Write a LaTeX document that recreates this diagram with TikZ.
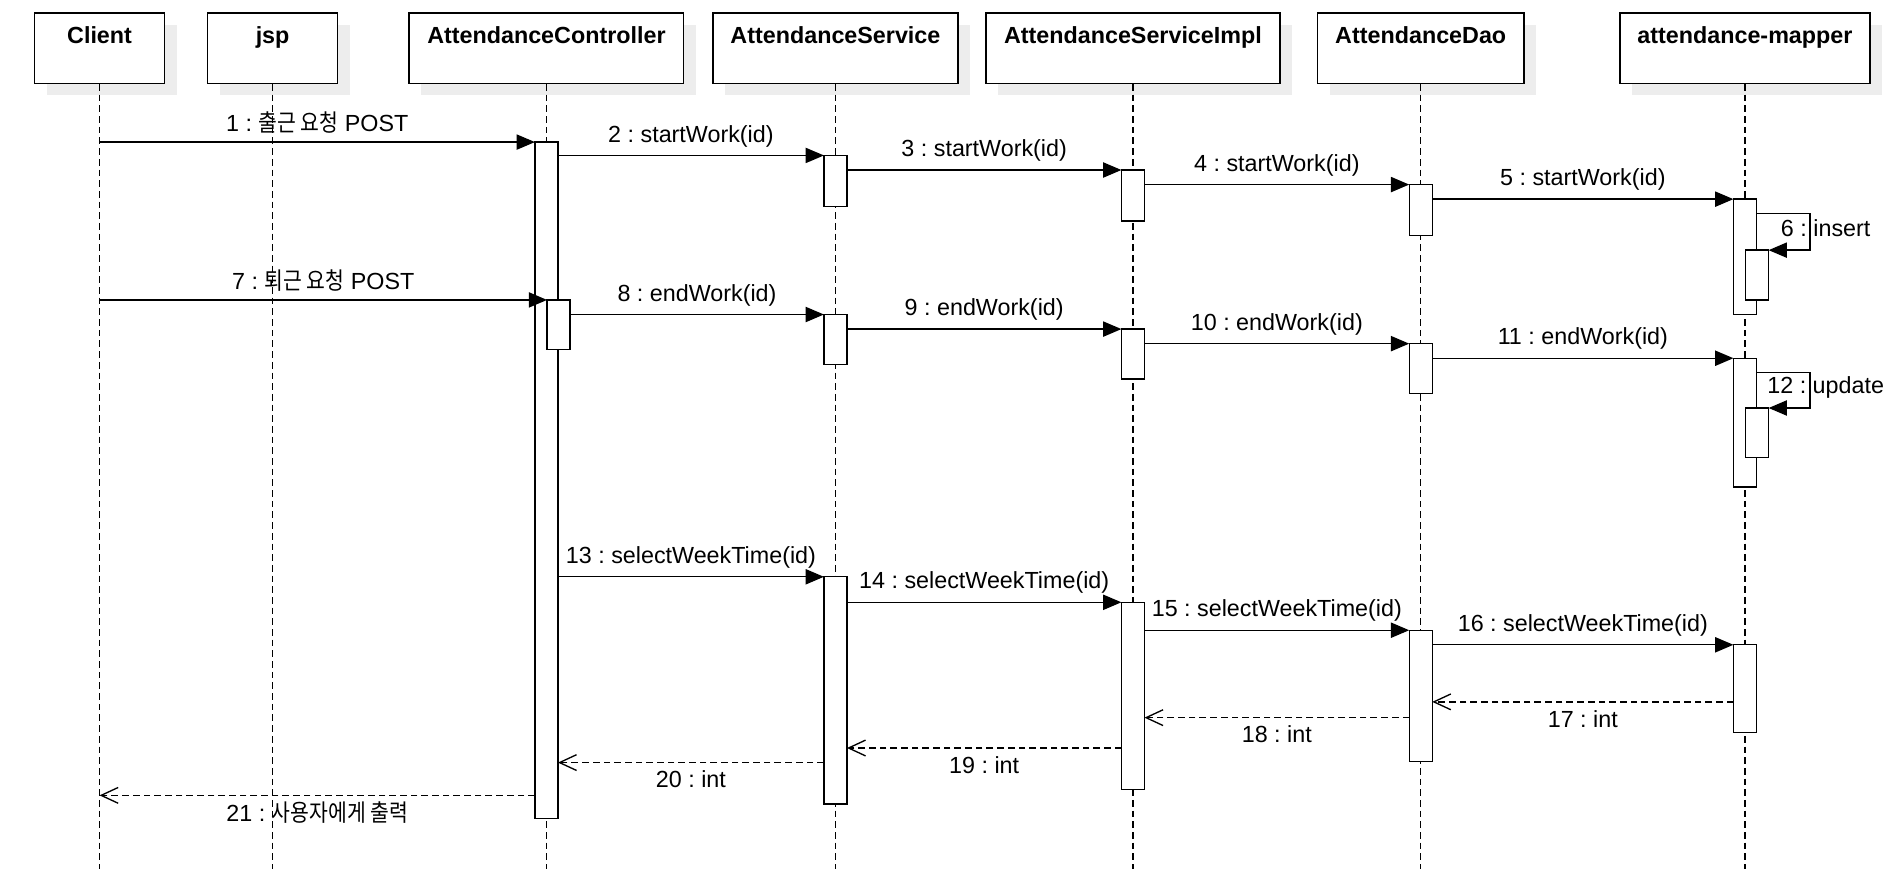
\documentclass[tikz,border=0pt]{standalone}
\usepackage{fontspec}
\setmainfont{Liberation Sans}
\newfontfamily\kr{Noto Sans CJK KR}[Scale=1.02, FakeStretch=0.86]
\usetikzlibrary{arrows.meta,shadows}
\frenchspacing

\begin{document}
\begin{tikzpicture}[x=1pt,y=-1pt,
  every node/.style={font=\fontsize{19.2}{23}\selectfont\frenchspacing},
  hdr/.style={draw, line width=1.2pt, fill=white, minimum height=58pt,
    inner sep=0pt, anchor=north, text height=24.9pt, text depth=33.1pt,
    font=\fontsize{19.2}{23}\selectfont\bfseries,
    drop shadow={shadow xshift=10pt, shadow yshift=-10pt, fill=black!7, opacity=1}},
  bar/.style={draw, line width=1.1pt, fill=white, minimum width=19pt,
    inner sep=0pt, outer sep=0pt, anchor=north},
  life/.style={line width=1.1pt, dash pattern=on 5.5pt off 3.3pt},
  call/.style={line width=1.1pt, -{Triangle[length=15pt, width=12.5pt]}},
  ret/.style={line width=1.1pt, dash pattern=on 5.5pt off 3.3pt,
    -{Straight Barb[length=14pt, width=13pt, line width=1.1pt]}},
  up/.style={midway, yshift=16pt, inner sep=0pt},
  down/.style={midway, yshift=-14pt, inner sep=0pt}
]
\useasboundingbox (0,0) rectangle (1568,718);
\fill[white] (0,0) rectangle (1568,718);

% participants
\node[hdr, minimum width=107pt] (c)   at (82,10)    {Client};
\node[hdr, minimum width=107pt] (j)   at (224.5,10) {jsp};
\node[hdr, minimum width=226pt] (ac)  at (450,10)   {AttendanceController};
\node[hdr, minimum width=202pt] (as)  at (688,10)   {AttendanceService};
\node[hdr, minimum width=242pt] (asi) at (933,10)   {AttendanceServiceImpl};
\node[hdr, minimum width=170pt] (ad)  at (1170,10)  {AttendanceDao};
\node[hdr, minimum width=206pt] (am)  at (1437,10)  {attendance-mapper};

% lifelines
\coordinate (bottom) at (0,716);
\foreach \p in {c,j,ac,as,asi,ad,am}
  \draw[life] (\p.south) -- (\p.south |- bottom);

% activation bars
\node[bar, minimum height=557pt] (a1) at (450,117) {};
\node[bar, minimum height=41pt]  (a2) at (460,247) {};
\node[bar, minimum height=42pt]  (s1) at (688,128) {};
\node[bar, minimum height=41pt]  (s2) at (688,259) {};
\node[bar, minimum height=187pt] (s3) at (688,475) {};
\node[bar, minimum height=42pt]  (i1) at (933,140) {};
\node[bar, minimum height=41pt]  (i2) at (933,271) {};
\node[bar, minimum height=154pt] (i3) at (933,496) {};
\node[bar, minimum height=42pt]  (d1) at (1170,152) {};
\node[bar, minimum height=41pt]  (d2) at (1170,283) {};
\node[bar, minimum height=108pt] (d3) at (1170,519) {};
\node[bar, minimum height=95pt]  (m1) at (1437,164) {};
\node[bar, minimum height=41pt]  (m2) at (1447,206) {};
\node[bar, minimum height=106pt] (m3) at (1437,295) {};
\node[bar, minimum height=41pt]  (m4) at (1447,336) {};
\node[bar, minimum height=72pt]  (m5) at (1437,531) {};

% rows of the return messages
\coordinate (r17) at (0,578);
\coordinate (r18) at (0,591);
\coordinate (r19) at (0,616);
\coordinate (r20) at (0,628);
\coordinate (r21) at (0,655);

% clock-in
\draw[call] (a1.north west -| c) -- (a1.north west)
  node[up] {1 : {\kr 출근 요청} POST};
\draw[call] (s1.north west -| a1.east) -- (s1.north west)
  node[up] {2 : startWork(id)};
\draw[call] (i1.north west -| s1.east) -- (i1.north west)
  node[up] {3 : startWork(id)};
\draw[call] (d1.north west -| i1.east) -- (d1.north west)
  node[up] {4 : startWork(id)};
\draw[call] (m1.north west -| d1.east) -- (m1.north west)
  node[up] {5 : startWork(id)};
\draw[call] ([yshift=-12pt]m1.north east) -- ++(44,0) |- (m2.north east)
  node[pos=0.25, xshift=13pt, yshift=3pt, inner sep=0pt] {6 : insert};

% clock-out
\draw[call] (a2.north west -| c) -- (a2.north west)
  node[up] {7 : {\kr 퇴근 요청} POST};
\draw[call] (s2.north west -| a2.east) -- (s2.north west)
  node[up] {8 : endWork(id)};
\draw[call] (i2.north west -| s2.east) -- (i2.north west)
  node[up] {9 : endWork(id)};
\draw[call] (d2.north west -| i2.east) -- (d2.north west)
  node[up] {10 : endWork(id)};
\draw[call] (m3.north west -| d2.east) -- (m3.north west)
  node[up] {11 : endWork(id)};
\draw[call] ([yshift=-12pt]m3.north east) -- ++(44,0) |- (m4.north east)
  node[pos=0.25, xshift=13pt, yshift=2.5pt, inner sep=0pt] {12 : update};

% weekly time query
\draw[call] (s3.north west -| a1.east) -- (s3.north west)
  node[up] {13 : selectWeekTime(id)};
\draw[call] (i3.north west -| s3.east) -- (i3.north west)
  node[up] {14 : selectWeekTime(id)};
\draw[call] (d3.north west -| i3.east) -- (d3.north west)
  node[up] {15 : selectWeekTime(id)};
\draw[call] (m5.north west -| d3.east) -- (m5.north west)
  node[up] {16 : selectWeekTime(id)};

% returns
\draw[ret] (m5.west |- r17) -- (d3.east |- r17) node[down] {17 : int};
\draw[ret] (d3.west |- r18) -- (i3.east |- r18) node[down] {18 : int};
\draw[ret] (i3.west |- r19) -- (s3.east |- r19) node[down] {19 : int};
\draw[ret] (s3.west |- r20) -- (a1.east |- r20) node[down] {20 : int};
\draw[ret] (a1.west |- r21) -- (c |- r21)
  node[down] {21 : {\kr 사용자에게 출력}};
\end{tikzpicture}
\end{document}
